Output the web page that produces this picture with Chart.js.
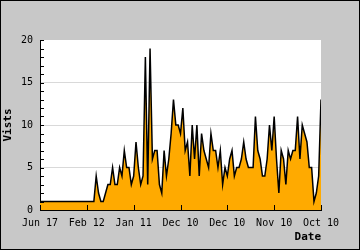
<!DOCTYPE html>
<html>
<head>
<meta charset="utf-8">
<script src="https://cdn.jsdelivr.net/npm/chart.js@4/dist/chart.umd.min.js"></script>
<style>
  html, body { margin: 0; padding: 0; background: #c8c8c8; }
  #wrap { width: 360px; height: 250px; }
</style>
</head>
<body>
<div id="wrap"><canvas id="visitsChart" width="360" height="250"></canvas></div>
<script>
// tick labels along the date axis (one every 20 days)
const tickLabels = ["Jun 17", "Feb 12", "Jan 11", "Dec 10", "Dec 10", "Nov 10", "Oct 10"];
const tickEvery = 20;

// visits per day, newest first
const visits = [
  1, 1, 1, 1, 1, 1, 1, 1, 1, 1, 1, 1, 1, 1, 1, 1, 1, 1, 1, 1,
  1, 1, 1, 1, 4, 2, 1, 1, 2, 3, 3, 5, 3, 3, 5, 4, 7, 5, 5, 3,
  4, 8, 5, 3, 4, 18, 3, 19, 6, 7, 7, 3, 2, 7, 4, 6, 9, 13, 10, 10,
  9, 12, 7, 8, 4, 10, 6, 10, 4, 9, 7, 6, 5, 9, 7, 7, 5, 7, 3, 5,
  4, 6, 7, 4, 5, 5, 6, 8, 6, 5, 5, 5, 11, 7, 6, 4, 4, 6, 10, 7,
  11, 6, 2, 7, 6, 3, 7, 6, 7, 7, 11, 6, 10, 9, 8, 5, 5, 1, 2, 4,
  13
];

const yTitle = "Vists";
const xTitle = "Date";

// grey frame + white plot area
const frame = {
  id: "frame",
  beforeDraw(chart) {
    const { ctx, chartArea: a } = chart;
    ctx.save();
    ctx.fillStyle = "#c8c8c8";
    ctx.fillRect(0, 0, chart.width, chart.height);
    ctx.fillStyle = "#ffffff";
    ctx.fillRect(a.left, a.top, a.right - a.left, a.bottom - a.top);
    ctx.strokeStyle = "#000";
    ctx.lineWidth = 1;
    ctx.strokeRect(0.5, 0.5, chart.width - 1, chart.height - 1);
    ctx.restore();
  }
};

// short tick marks pointing into the plot, drawn over the fill
const innerTicks = {
  id: "innerTicks",
  afterDatasetsDraw(chart) {
    const { ctx, chartArea: a, scales } = chart;
    ctx.save();
    ctx.strokeStyle = "#000";
    ctx.lineWidth = 1;
    ctx.beginPath();
    scales.y.ticks.forEach(t => {
      const py = Math.round(scales.y.getPixelForValue(t.value)) + 0.5;
      ctx.moveTo(a.left, py);
      ctx.lineTo(a.left + 4, py);
    });
    scales.x.ticks.forEach(t => {
      const px = Math.round(scales.x.getPixelForValue(t.value)) + 0.5;
      ctx.moveTo(px, a.bottom);
      ctx.lineTo(px, a.bottom - 5);
    });
    ctx.stroke();
    ctx.restore();
  }
};

const mono = "'DejaVu Sans Mono', monospace";

new Chart(document.getElementById("visitsChart"), {
  type: "line",
  data: {
    datasets: [{
      data: visits.map((v, i) => ({ x: i, y: v })),
      borderColor: "#000",
      borderWidth: 1.5,
      backgroundColor: "#ffaa00",
      fill: "origin",
      pointRadius: 0,
      tension: 0
    }]
  },
  options: {
    responsive: false,
    animation: false,
    layout: { padding: { left: 2, top: 40, right: 39, bottom: 0 } },
    plugins: { legend: { display: false }, tooltip: { enabled: false } },
    scales: {
      x: {
        type: "linear",
        min: 0,
        max: visits.length - 1,
        afterFit: s => { s.height = 40; s.paddingLeft = 0; s.paddingRight = 0; },
        afterBuildTicks: s => {
          s.ticks = tickLabels.map((t, k) => ({ value: k * tickEvery }));
        },
        ticks: {
          autoSkip: false,
          maxRotation: 0,
          padding: 7,
          color: "#000",
          font: { family: mono, size: 10 },
          callback: v => tickLabels[v / tickEvery]
        },
        grid: { drawOnChartArea: false, drawTicks: false },
        border: { color: "#000", width: 1 },
        title: {
          display: true,
          text: xTitle,
          align: "end",
          color: "#000",
          font: { family: mono, size: 11, weight: "bold" },
          padding: { top: 0, bottom: 6 }
        }
      },
      y: {
        min: 0,
        max: 20,
        afterFit: s => { s.width = 38; s.paddingTop = 0; s.paddingBottom = 0; },
        ticks: {
          stepSize: 1,
          autoSkip: false,
          padding: 7,
          color: "#000",
          font: { family: mono, size: 10 },
          callback: v => (v % 5 === 0 ? String(v) : "")
        },
        grid: {
          drawTicks: false,
          color: c => (c.tick && c.tick.value % 5 === 0 && c.tick.value > 0 && c.tick.value < 20) ? "#d9d9d9" : "rgba(0,0,0,0)"
        },
        border: { color: "#000", width: 1 },
        title: {
          display: true,
          text: yTitle,
          color: "#000",
          font: { family: mono, size: 11, weight: "bold" },
          padding: { top: 0, bottom: 0 }
        }
      }
    }
  },
  plugins: [frame, innerTicks]
});
</script>
</body>
</html>
